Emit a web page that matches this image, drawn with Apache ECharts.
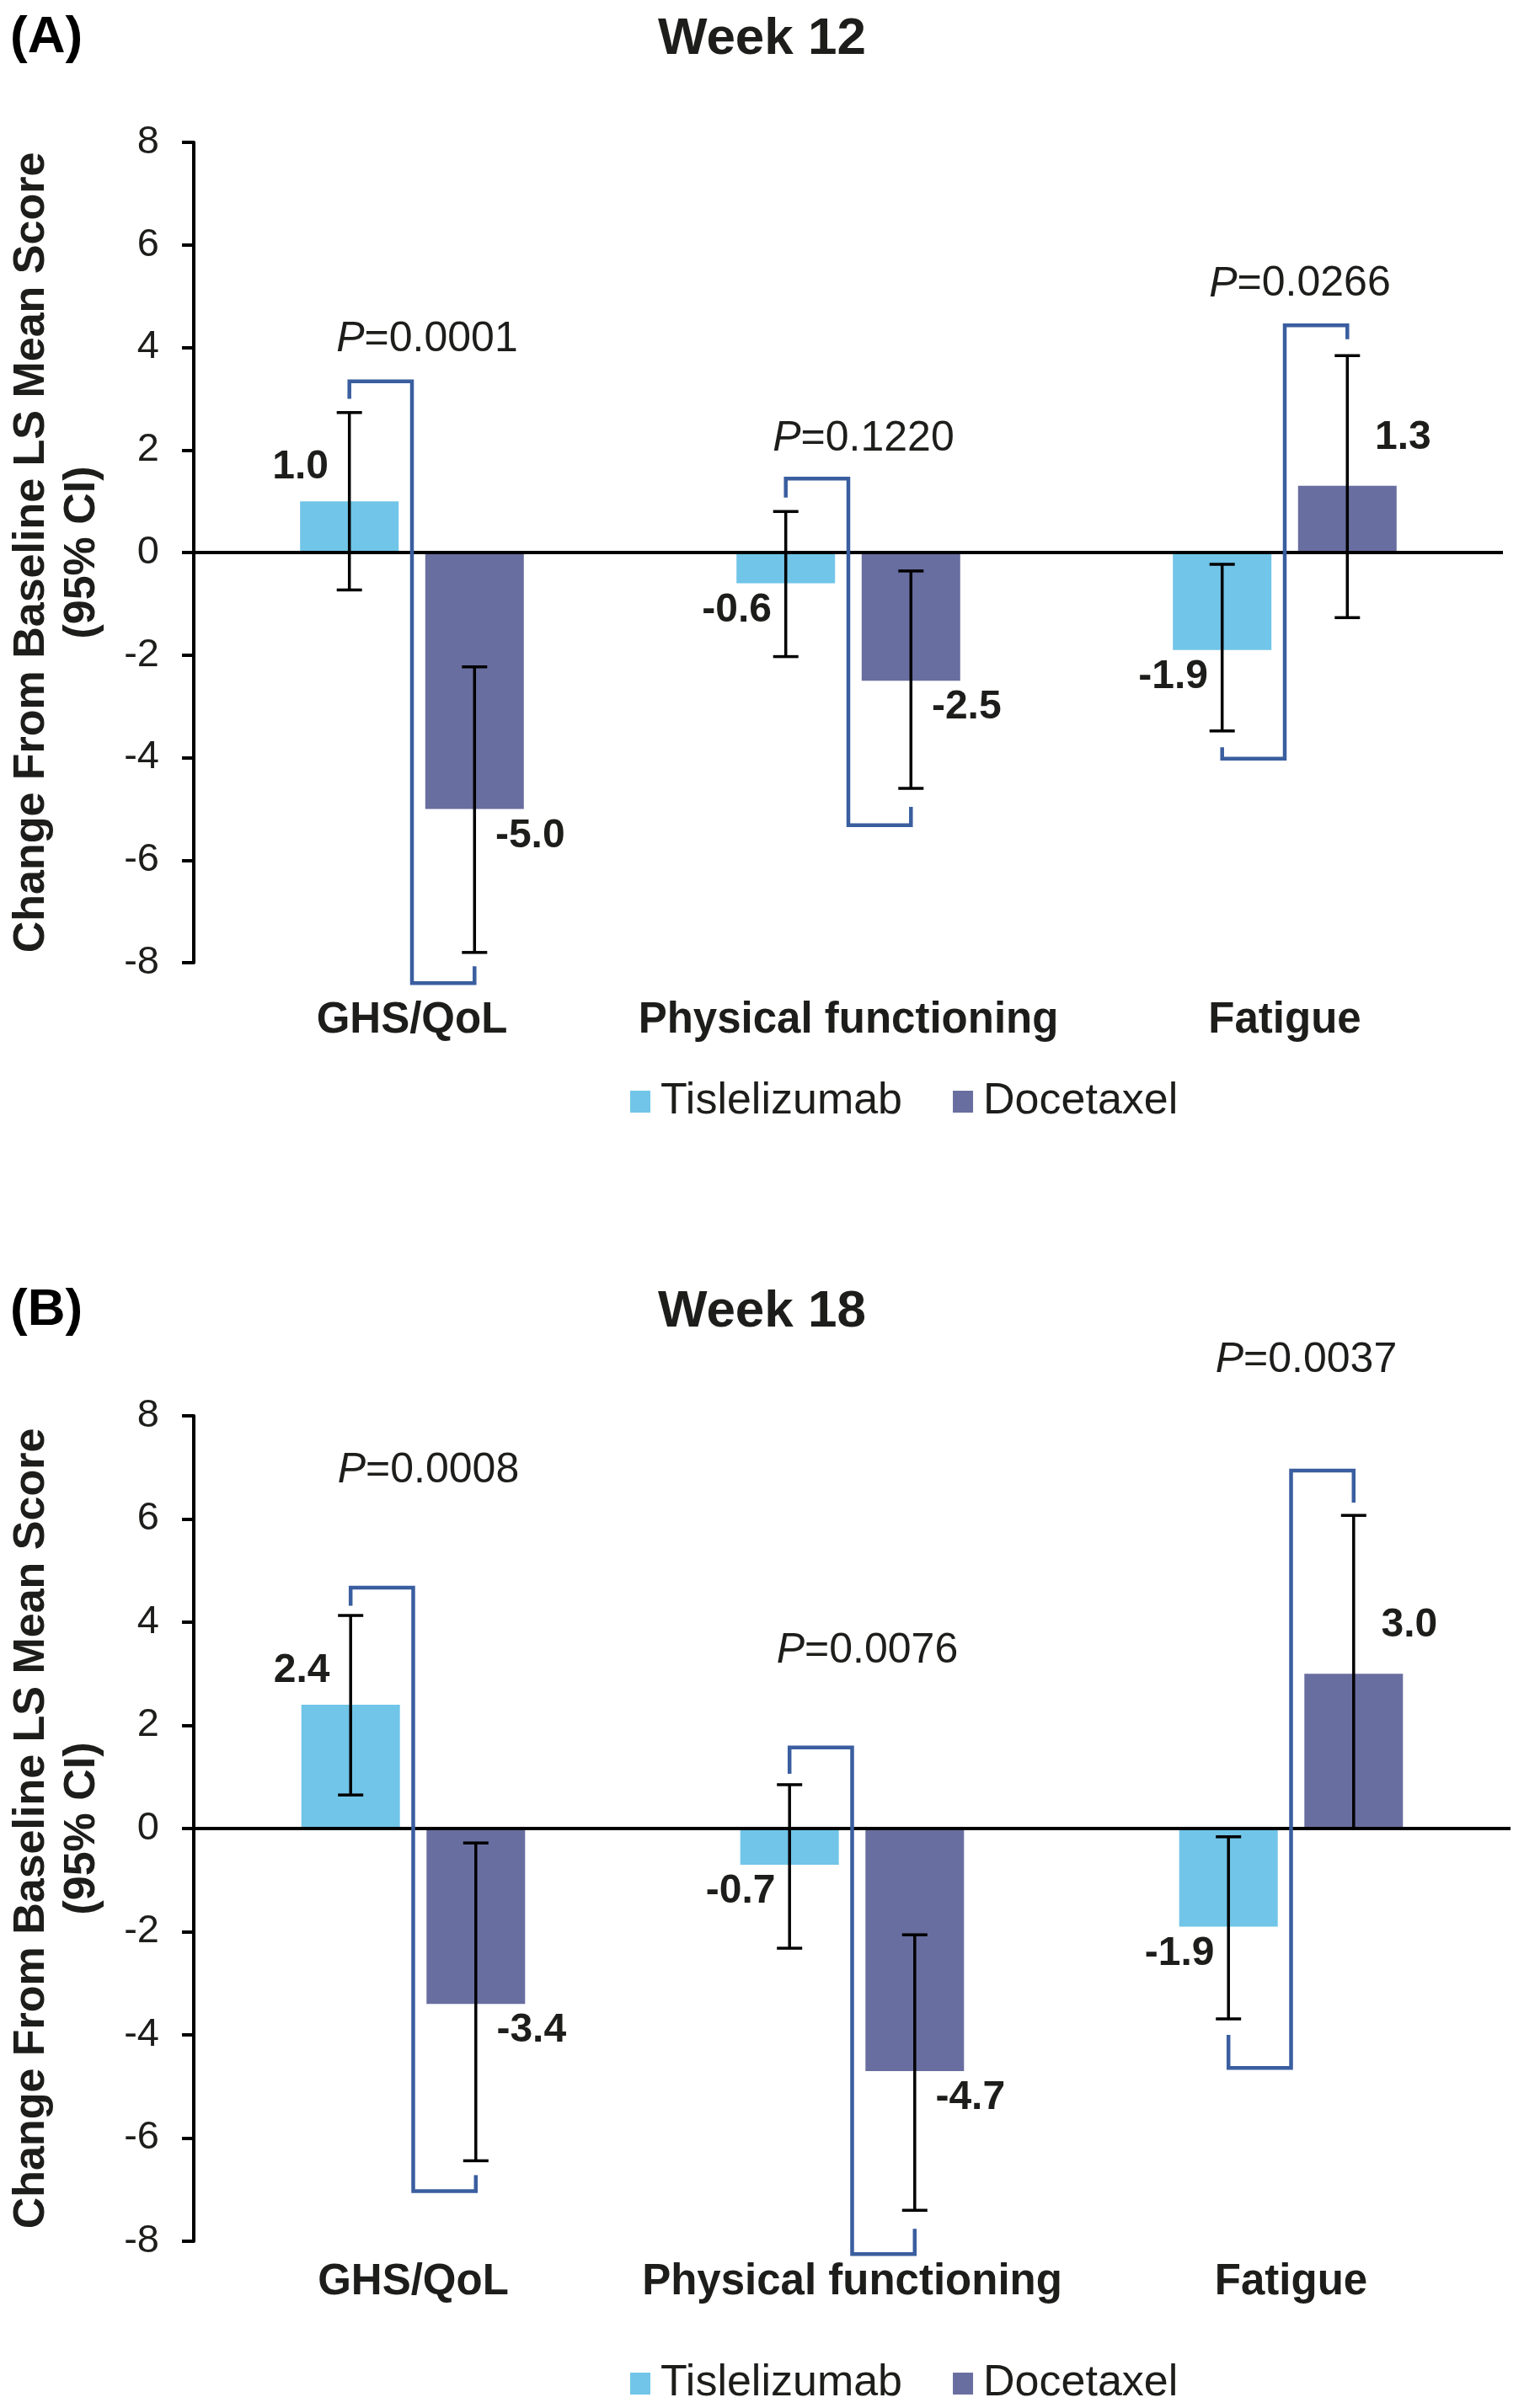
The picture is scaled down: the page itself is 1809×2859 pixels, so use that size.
<!DOCTYPE html>
<html>
<head>
<meta charset="utf-8"/>
<title>Change from baseline - Week 12 / Week 18</title>
<script src="https://cdn.jsdelivr.net/npm/echarts@6/dist/echarts.min.js"></script>
<style>
html,body{margin:0;padding:0;background:#fff;}
#main{width:1809px;height:2859px;}
</style>
</head>
<body>
<div id="main"></div>
<script>
var categories = ['GHS/QoL', 'Physical functioning', 'Fatigue'];
var seriesNames = ['Tislelizumab', 'Docetaxel'];
var yTicks = [-8, 8, 2]; // min, max, step

// Week 12
var w12Tis      = [1.0, -0.6, -1.9];
var w12TisLow   = [-0.73, -2.03, -3.48];
var w12TisHigh  = [2.73, 0.80, -0.23];
var w12Doc      = [-5.0, -2.5, 1.3];
var w12DocLow   = [-7.80, -4.60, -1.27];
var w12DocHigh  = [-2.23, -0.36, 3.84];
var w12P        = ['0.0001', '0.1220', '0.0266'];
// comparison bracket, in axis units: level on Tislelizumab side, its leg end,
// level on Docetaxel side, its leg end, and where the P text sits
var w12BrTis    = [3.34, 1.44, -4.02];
var w12BrTisEnd = [3.00, 1.07, -3.80];
var w12BrDoc    = [-8.40, -5.32, 4.43];
var w12BrDocEnd = [-8.07, -4.96, 4.16];
var w12PAt      = [4.15, 2.22, 5.23];

// Week 18
var w18Tis      = [2.4, -0.7, -1.9];
var w18TisLow   = [0.65, -2.32, -3.69];
var w18TisHigh  = [4.13, 0.85, -0.16];
var w18Doc      = [-3.4, -4.7, 3.0];
var w18DocLow   = [-6.44, -7.40, 0.00];
var w18DocHigh  = [-0.28, -2.06, 6.07];
var w18P        = ['0.0008', '0.0076', '0.0037'];
var w18BrTis    = [4.67, 1.57, -4.64];
var w18BrTisEnd = [4.32, 1.06, -4.00];
var w18BrDoc    = [-7.03, -8.25, 6.94];
var w18BrDocEnd = [-6.72, -7.76, 6.32];
var w18PAt      = [6.93, 3.44, 9.07];

var FONT = '"Liberation Sans", Arial, Helvetica, sans-serif';
var TEXT = '#1d1d1b';
var TIS_COLOR = '#71c5e8';
var DOC_COLOR = '#696ea0';
var BRACKET_COLOR = '#3a5e9f';
var BAR_W = 117;
var BAR_GAP = 0.27;

function rows(tis, tl, th, doc, dl, dh, bt, bte, bd, bde, pat) {
    var out = [];
    for (var i = 0; i < categories.length; i++) {
        out.push([i, tis[i], tl[i], th[i], doc[i], dl[i], dh[i], bt[i], bte[i], bd[i], bde[i], pat[i]]);
    }
    return out;
}

function makeRender(pTexts) {
    return function (params, api) {
        var i = api.value(0);
        var cx = api.coord([i, 0])[0];
        var off = BAR_W * (1 + BAR_GAP) / 2;
        var xT = cx - off, xD = cx + off;
        function Y(v) { return api.coord([i, v])[1]; }
        var kids = [];

        // error bars
        [[xT, api.value(2), api.value(3)], [xD, api.value(5), api.value(6)]].forEach(function (e) {
            var y1 = Y(e[1]), y2 = Y(e[2]);
            kids.push({type: 'line', shape: {x1: e[0], y1: y1, x2: e[0], y2: y2}, style: {stroke: '#000', lineWidth: 3.5}});
            kids.push({type: 'line', shape: {x1: e[0] - 15, y1: y1, x2: e[0] + 15, y2: y1}, style: {stroke: '#000', lineWidth: 3.5}});
            kids.push({type: 'line', shape: {x1: e[0] - 15, y1: y2, x2: e[0] + 15, y2: y2}, style: {stroke: '#000', lineWidth: 3.5}});
        });

        // bracket
        var bt = Y(api.value(7)), bte = Y(api.value(8)), bd = Y(api.value(9)), bde = Y(api.value(10));
        kids.push({
            type: 'polyline',
            shape: {points: [[xT, bte], [xT, bt], [cx, bt], [cx, bd], [xD, bd], [xD, bde]]},
            style: {stroke: BRACKET_COLOR, lineWidth: 4.5, fill: null, lineJoin: 'miter'}
        });

        // value labels
        var tv = api.value(1), dv = api.value(4);
        kids.push({
            type: 'text', x: xT - 58, y: Y(tv) + (tv >= 0 ? -40 : 32),
            style: {text: tv.toFixed(1), fill: TEXT, fontSize: 48, fontWeight: 'bold', fontFamily: FONT, align: 'center', verticalAlign: 'middle'}
        });
        kids.push({
            type: 'text', x: xD + 66, y: Y(dv) + (dv >= 0 ? -57 : 32),
            style: {text: dv.toFixed(1), fill: TEXT, fontSize: 48, fontWeight: 'bold', fontFamily: FONT, align: 'center', verticalAlign: 'middle'}
        });

        // P value
        kids.push({
            type: 'text', x: cx + 18, y: Y(api.value(11)),
            style: {
                text: '{i|P}=' + pTexts[i], fill: TEXT, fontSize: 50, fontFamily: FONT,
                align: 'center', verticalAlign: 'middle',
                rich: {i: {fontStyle: 'italic', fontSize: 50, fontFamily: FONT, fill: TEXT}}
            }
        });
        return {type: 'group', children: kids};
    };
}

var grids = [
    {left: 227, top: 169, width: 1557, height: 974},
    {left: 225, top: 1681, width: 1568, height: 980}
];

function yAxisFor(idx) {
    return {
        type: 'value', gridIndex: idx, min: yTicks[0], max: yTicks[1], interval: yTicks[2],
        name: 'Change From Baseline LS Mean Score\n(95% CI)',
        nameLocation: 'middle', nameRotate: 90, nameGap: 102,
        nameTextStyle: {fontSize: 52, fontWeight: 'bold', fontFamily: FONT, color: TEXT, lineHeight: 60},
        axisLine: {show: true, lineStyle: {color: '#000', width: 4}},
        axisTick: {show: true, inside: false, length: 14, lineStyle: {color: '#000', width: 4}},
        axisLabel: {fontSize: 47, fontFamily: FONT, color: TEXT, margin: 41},
        splitLine: {show: false}
    };
}

function xAxisFor(idx, margin) {
    return {
        type: 'category', gridIndex: idx, data: categories, position: 'bottom',
        axisLine: {show: false, onZero: false}, axisTick: {show: false},
        axisLabel: {fontSize: 51, fontWeight: 'bold', fontFamily: FONT, color: TEXT, margin: margin, interval: 0}
    };
}

function barSeries(name, data, color, idx, withZero) {
    var s = {
        name: name, type: 'bar', xAxisIndex: idx, yAxisIndex: idx, data: data,
        barWidth: BAR_W, barGap: (BAR_GAP * 100) + '%',
        itemStyle: {color: color}, z: 2
    };
    if (withZero) {
        s.markLine = {
            silent: true, symbol: ['none', 'none'], label: {show: false},
            lineStyle: {color: '#000', width: 4, type: 'solid'},
            data: [{yAxis: 0}], z: 3
        };
    }
    return s;
}

var myChart = echarts.init(document.getElementById('main'));

var option = {
    animation: false,
    backgroundColor: '#fff',
    textStyle: {fontFamily: FONT},
    title: [
        {text: '(A)', left: 12, top: 14, padding: 0, textStyle: {fontSize: 62, fontWeight: 'bold', color: '#000', fontFamily: FONT}},
        {text: 'Week 12', left: 'center', top: 16, padding: 0, textStyle: {fontSize: 62, fontWeight: 'bold', color: TEXT, fontFamily: FONT}},
        {text: '(B)', left: 12, top: 1525, padding: 0, textStyle: {fontSize: 62, fontWeight: 'bold', color: '#000', fontFamily: FONT}},
        {text: 'Week 18', left: 'center', top: 1527, padding: 0, textStyle: {fontSize: 62, fontWeight: 'bold', color: TEXT, fontFamily: FONT}}
    ],
    legend: [0, 1].map(function (k) {
        return {
            data: seriesNames, left: 748, top: k === 0 ? 1282 : 2804,
            icon: 'rect', itemWidth: 24, itemHeight: 26, itemGap: 60, padding: 0,
            textStyle: {fontSize: 52, fontFamily: FONT, color: TEXT, padding: [0, 0, 0, 7]}
        };
    }),
    grid: grids,
    xAxis: [xAxisFor(0, 43), xAxisFor(1, 23)],
    yAxis: [yAxisFor(0), yAxisFor(1)],
    series: [
        barSeries(seriesNames[0], w12Tis, TIS_COLOR, 0, true),
        barSeries(seriesNames[1], w12Doc, DOC_COLOR, 0, false),
        {
            type: 'custom', xAxisIndex: 0, yAxisIndex: 0, clip: false, z: 5, silent: true,
            renderItem: makeRender(w12P),
            data: rows(w12Tis, w12TisLow, w12TisHigh, w12Doc, w12DocLow, w12DocHigh,
                       w12BrTis, w12BrTisEnd, w12BrDoc, w12BrDocEnd, w12PAt)
        },
        barSeries(seriesNames[0], w18Tis, TIS_COLOR, 1, true),
        barSeries(seriesNames[1], w18Doc, DOC_COLOR, 1, false),
        {
            type: 'custom', xAxisIndex: 1, yAxisIndex: 1, clip: false, z: 5, silent: true,
            renderItem: makeRender(w18P),
            data: rows(w18Tis, w18TisLow, w18TisHigh, w18Doc, w18DocLow, w18DocHigh,
                       w18BrTis, w18BrTisEnd, w18BrDoc, w18BrDocEnd, w18PAt)
        }
    ]
};

myChart.setOption(option);
</script>
</body>
</html>
